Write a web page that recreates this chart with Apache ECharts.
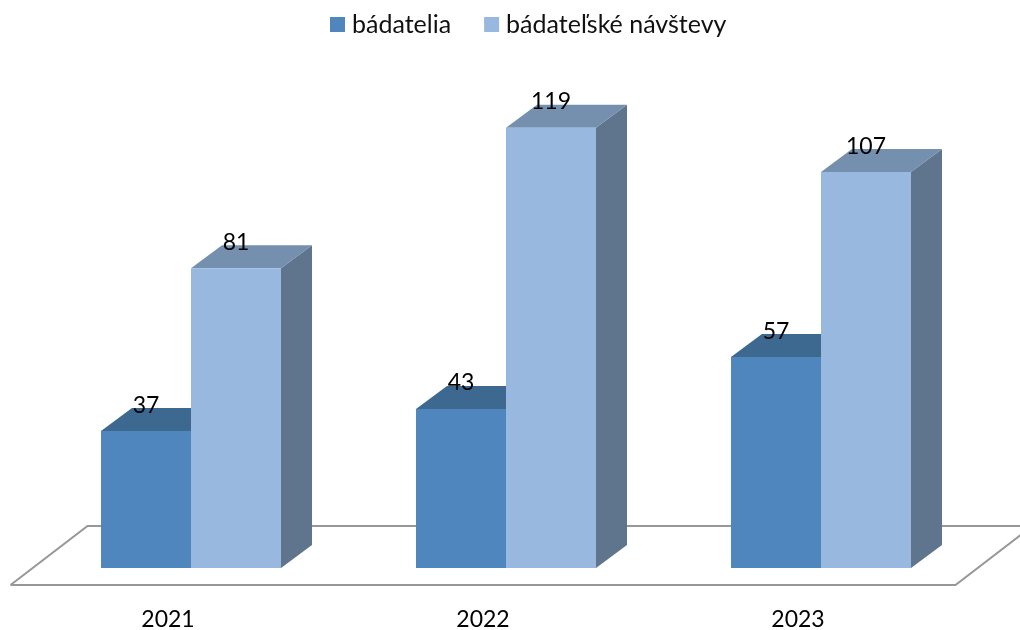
<!DOCTYPE html>
<html>
<head>
<meta charset="utf-8">
<style>
  html, body { margin: 0; background: #fff; }
  #chart { width: 1020px; height: 630px; }
</style>
<script src="https://cdn.jsdelivr.net/npm/echarts@6/dist/echarts.min.js"></script>
</head>
<body>
<div id="chart"></div>
<script>
const years = ["2021", "2022", "2023"];
const badatelia = [37, 43, 57];
const navstevy = [81, 119, 107];

const FONT = "Lato, 'Noto Sans', sans-serif";
const BAR_W = 90;
// bars stand mid-way on the floor, depth vector of the box and of the floor
const LIFT = [23, -17];
const BOX = [31, -23];
const FLOOR = [77, -59];

const chart = echarts.init(document.getElementById("chart"));

function barItem(side, faces) {
  return (params, api) => {
    const top = api.coord([api.value(0), api.value(1)]);
    const base = api.coord([api.value(0), 0]);
    const x0 = top[0] + LIFT[0] + (side < 0 ? -BAR_W : 0);
    const x1 = x0 + BAR_W;
    const yt = top[1] + LIFT[1];
    const yb = base[1] + LIFT[1];
    const poly = (points, fill) => ({ type: "polygon", shape: { points }, style: { fill } });
    return {
      type: "group",
      children: [
        poly([[x1, yb], [x1 + BOX[0], yb + BOX[1]], [x1 + BOX[0], yt + BOX[1]], [x1, yt]], faces.side),
        poly([[x0, yt], [x1, yt], [x1 + BOX[0], yt + BOX[1]], [x0 + BOX[0], yt + BOX[1]]], faces.top),
        poly([[x0, yb], [x1, yb], [x1, yt], [x0, yt]], faces.front),
        {
          type: "text",
          style: {
            text: String(api.value(1)),
            x: (x0 + x1) / 2,
            y: yt - 26,
            align: "center",
            verticalAlign: "middle",
            fill: "#000",
            font: "23px " + FONT
          }
        }
      ]
    };
  };
}

function floorItem(params, api) {
  const a = api.coord([0, 0]);
  const b = api.coord([2, 0]);
  const half = api.size([1, 0])[0] / 2;
  const l = a[0] - half;
  const r = b[0] + half;
  const y = a[1];
  return {
    type: "polyline",
    shape: {
      points: [
        [l, y],
        [l + FLOOR[0], y + FLOOR[1]],
        [r + FLOOR[0], y + FLOOR[1]],
        [r, y],
        [l, y]
      ]
    },
    style: { fill: "none", stroke: "#979797", lineWidth: 2 }
  };
}

chart.setOption({
  animation: false,
  backgroundColor: "#fff",
  legend: {
    left: 325,
    top: 7,
    data: ["bádatelia", "bádateľské návštevy"],
    icon: "rect",
    itemWidth: 15,
    itemHeight: 15,
    itemGap: 33,
    textStyle: { color: "#111", fontFamily: FONT, fontSize: 25, padding: [0, 0, 0, 2] }
  },
  grid: { left: 10.5, width: 945, top: 67, height: 518, outerBoundsMode: "none" },
  xAxis: {
    type: "category",
    data: years,
    axisTick: { show: false },
    axisLine: { show: false },
    axisLabel: { color: "#000", fontFamily: FONT, fontSize: 23, margin: 23 }
  },
  yAxis: { type: "value", min: 0, max: 140, show: false },
  series: [
    {
      name: "floor",
      type: "custom",
      silent: true,
      clip: false,
      data: [[0, 0]],
      renderItem: floorItem
    },
    {
      name: "bádatelia",
      type: "custom",
      clip: false,
      itemStyle: { color: "#4f86be" },
      data: badatelia.map((v, i) => [i, v]),
      encode: { x: 0, y: 1 },
      renderItem: barItem(-1, { front: "#4f86be", top: "#3d688f", side: "#3d688f" })
    },
    {
      name: "bádateľské návštevy",
      type: "custom",
      clip: false,
      itemStyle: { color: "#98b8e0" },
      data: navstevy.map((v, i) => [i, v]),
      encode: { x: 0, y: 1 },
      renderItem: barItem(1, { front: "#98b8e0", top: "#758fae", side: "#5f748d" })
    }
  ]
});
</script>
</body>
</html>
